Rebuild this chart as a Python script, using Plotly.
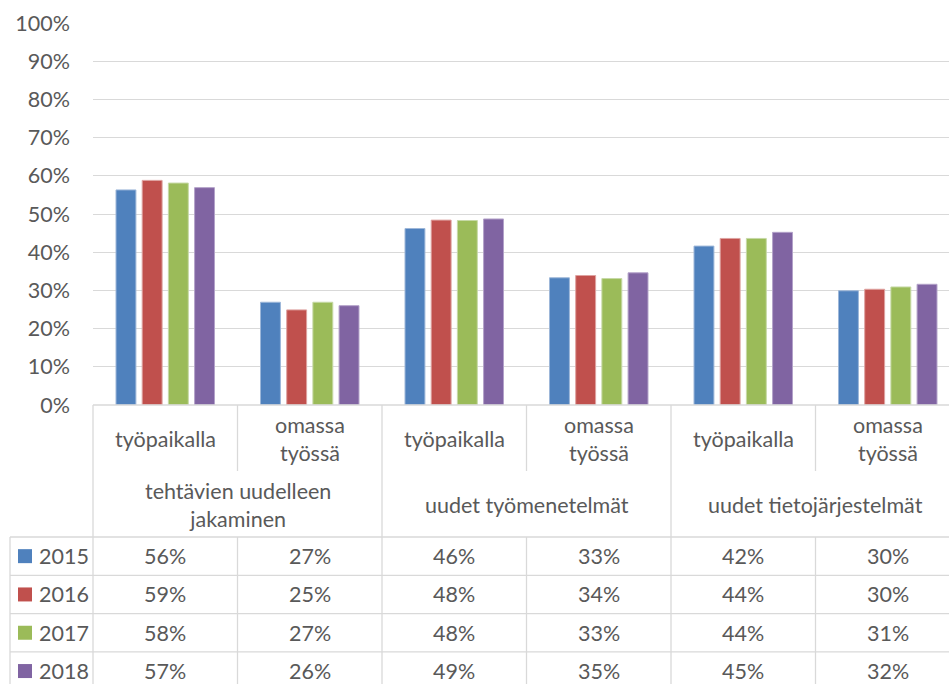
import plotly.graph_objects as go

# ---- data ----
subcats = ["työpaikalla", "omassa<br>työssä", "työpaikalla", "omassa<br>työssä", "työpaikalla", "omassa<br>työssä"]
groups = ["tehtävien uudelleen<br>jakaminen", "uudet työmenetelmät", "uudet tietojärjestelmät"]
years = ["2015", "2016", "2017", "2018"]
v2015 = [56.3, 26.9, 46.2, 33.3, 41.6, 29.9]
v2016 = [58.8, 24.9, 48.4, 33.9, 43.6, 30.3]
v2017 = [58.1, 26.9, 48.3, 33.1, 43.6, 30.9]
v2018 = [56.9, 26.0, 48.7, 34.6, 45.2, 31.6]
yticks = [0, 10, 20, 30, 40, 50, 60, 70, 80, 90, 100]
yticklabels = ["0%", "10%", "20%", "30%", "40%", "50%", "60%", "70%", "80%", "90%", "100%"]

series = [v2015, v2016, v2017, v2018]
colors = ["#4F81BD", "#C0504D", "#9BBB59", "#8064A2"]
edge = ["#9DB7D9", "#DEA2A0", "#C6D9A6", "#B3A2C9"]

W, H = 949, 684
ML, MT, MB = 93, 23, 279
plot_w = W - ML
plot_h = H - MT - MB
col_px = 144.5
xr = [-0.5, 5.5 - (ML + 6 * col_px - W) / col_px]

def px_x(X):
    return (X - ML) / plot_w

def px_y(Y):
    return (H - MB - Y) / plot_h

def dx(v):
    return (v - xr[0]) / (xr[1] - xr[0])

xs = list(range(len(subcats)))
fig = go.Figure()
for yr, vals, c, e in zip(years, series, colors, edge):
    fig.add_trace(go.Bar(x=xs, y=vals, name=yr, marker=dict(color=c, line=dict(color=e, width=1)),
                         showlegend=False))

font_fam = "Lato, 'Open Sans', sans-serif"
FS = 21.5
txt = "#595959"
grid = "#D9D9D9"

shapes = []
ann = []

def hline(x0, x1, Y):
    shapes.append(dict(type="line", xref="paper", yref="paper", x0=x0, x1=x1, y0=px_y(Y), y1=px_y(Y),
                       line=dict(color=grid, width=1.3)))

def vline(xp, Y0, Y1):
    shapes.append(dict(type="line", xref="paper", yref="paper", x0=xp, x1=xp, y0=px_y(Y0), y1=px_y(Y1),
                       line=dict(color=grid, width=1.3)))

top, sub_bot, grp_bot = 405, 471, 537
row_h = 38.3
bottom = H + 5
hline(px_x(ML), 1.0, top)
for i in range(4):
    hline(px_x(10), 1.0, grp_bot + i * row_h)
vline(px_x(ML), top, bottom)
vline(px_x(10), grp_bot, bottom)
for b in [0.5, 2.5, 4.5]:
    vline(dx(b), top, sub_bot)
    vline(dx(b), grp_bot, bottom)
for b in [1.5, 3.5]:
    vline(dx(b), top, bottom)

for i, s in enumerate(subcats):
    ann.append(dict(x=dx(i), y=px_y(439), text=s, showarrow=False, xref="paper", yref="paper",
                    xanchor="center", yanchor="middle", font=dict(size=FS, color=txt, family=font_fam)))
for g, lab in enumerate(groups):
    ann.append(dict(x=dx(2 * g + 0.5), y=px_y(505), text=lab, showarrow=False, xref="paper", yref="paper",
                    xanchor="center", yanchor="middle", font=dict(size=FS, color=txt, family=font_fam)))
for r, (yr, vals, c) in enumerate(zip(years, series, colors)):
    yc = grp_bot + (r + 0.5) * row_h
    shapes.append(dict(type="rect", xref="paper", yref="paper", x0=px_x(18), x1=px_x(32),
                       y0=px_y(yc - 7), y1=px_y(yc + 7), fillcolor=c, line=dict(width=0)))
    ann.append(dict(x=px_x(37), y=px_y(yc), text=yr, showarrow=False, xref="paper", yref="paper",
                    xanchor="left", yanchor="middle", font=dict(size=FS, color=txt, family=font_fam)))
    for i, v in enumerate(vals):
        ann.append(dict(x=dx(i), y=px_y(yc), text=f"{int(v + 0.5)}%", showarrow=False, xref="paper",
                        yref="paper", xanchor="center", yanchor="middle",
                        font=dict(size=FS, color=txt, family=font_fam)))

fig.update_layout(
    width=W, height=H,
    margin=dict(l=ML, r=0, t=MT, b=MB),
    paper_bgcolor="white", plot_bgcolor="white",
    barmode="group", bargap=0.275, bargroupgap=0.24,
    font=dict(family=font_fam, color=txt, size=FS),
    xaxis=dict(range=xr, showticklabels=False, showgrid=False, zeroline=False, showline=False, ticks=""),
    yaxis=dict(range=[0, 100], tickvals=yticks, ticktext=yticklabels, showgrid=True, gridcolor=grid,
               gridwidth=1.3, zeroline=False, showline=False, ticks="", ticklabelstandoff=22,
               tickfont=dict(size=FS, color=txt, family=font_fam)),
    shapes=shapes, annotations=ann,
)

fig.write_html("out.html", config={"displayModeBar": False},
               post_script="document.body.style.margin='0px';document.body.style.overflow='hidden';")
